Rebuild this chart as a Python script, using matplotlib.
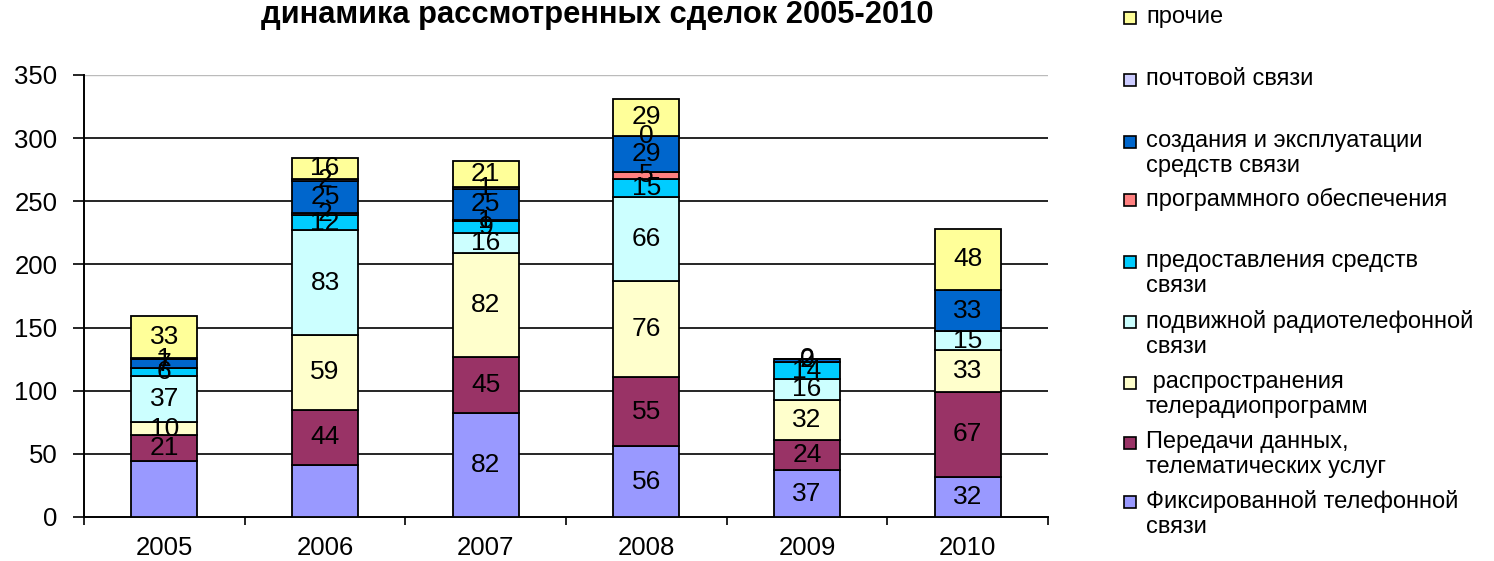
import numpy as np
import matplotlib
matplotlib.use("Agg")
import matplotlib.pyplot as plt
from matplotlib.patches import Rectangle

plt.rcParams['font.family'] = ['Liberation Sans', 'DejaVu Sans']

years = ['2005', '2006', '2007', '2008', '2009', '2010']
nan = np.nan

# series, bottom to top
fixed        = [44, 41, 82, 56, 37, 32]
data_tel     = [21, 44, 45, 55, 24, 67]
broadcast    = [10, 59, 82, 76, 32, 33]
mobile       = [37, 83, 16, 66, 16, 15]
provision    = [6, 12, 9, 15, 14, nan]
software     = [nan, 2, 1, 5, nan, nan]
creation     = [7, 25, 25, 29, 2, 33]
postal       = [1, 2, 1, 0, 0, nan]
other        = [33, 16, 21, 29, nan, 48]

series_names = [
    'Фиксированной телефонной\nсвязи',
    'Передачи данных,\nтелематических услуг',
    ' распространения\nтелерадиопрограмм',
    'подвижной радиотелефонной\nсвязи',
    'предоставления средств\nсвязи',
    'программного обеспечения',
    'создания и эксплуатации\nсредств связи',
    'почтовой связи',
    'прочие',
]
series_values = [fixed, data_tel, broadcast, mobile, provision, software,
                 creation, postal, other]
colors = ['#9999FF', '#993366', '#FFFFCC', '#CCFFFF', '#00CCFF', '#FF8080',
          '#0066CC', '#CCCCFF', '#FFFF99']
# labels not shown in the original
hidden_labels = {(0, 0), (0, 1)}

W, H = 1494, 561
fig = plt.figure(figsize=(W / 100, H / 100), dpi=100)
ax = fig.add_axes([84 / W, 1 - 517 / H, (1048 - 84) / W, (517 - 75) / H])

x = np.arange(len(years))
bottom = np.zeros(len(years))
for si, (vals, col) in enumerate(zip(series_values, colors)):
    v = np.array(vals, dtype=float)
    vv = np.nan_to_num(v)
    ax.bar(x, vv, 0.41, bottom=bottom, color=col, edgecolor='black',
           linewidth=1.3, zorder=3)
    for i in range(len(years)):
        if np.isnan(v[i]) or (si, i) in hidden_labels:
            continue
        ax.text(x[i], bottom[i] + vv[i] / 2, f'{int(v[i])}', ha='center',
                va='center', fontsize=19, color='black', zorder=4)
    bottom += vv

ax.set_xlim(-0.5, len(years) - 0.5)
ax.set_ylim(0, 350)
ax.set_yticks(np.arange(0, 351, 50))
ax.tick_params(axis='y', direction='out', length=8, width=1.2, labelsize=18.5, pad=11)
for yv in range(50, 301, 50):
    ax.axhline(yv, color='black', linewidth=1.2, zorder=1)
ax.axhline(350, color='#bbbbbb', linewidth=1.0, zorder=1)

ax.set_xticks(np.arange(-0.5, len(years)), minor=False)
ax.set_xticklabels([])
ax.set_xticks(x, minor=True)
ax.set_xticklabels(years, minor=True)
ax.tick_params(axis='x', which='major', direction='out', length=6, width=1.2)
ax.tick_params(axis='x', which='minor', length=0, labelsize=18.5, pad=14)

for s in ['top', 'right']:
    ax.spines[s].set_visible(False)
for s in ['left', 'bottom']:
    ax.spines[s].set_linewidth(1.4)

fig.text(597 / W, 1 - 15 / H, 'динамика рассмотренных сделок 2005-2010',
         ha='center', va='center', fontsize=22.2, fontweight='bold')

# legend (top entry first), first-line y positions in pixels
leg_y = [18, 80, 142, 200, 262, 322, 383, 443, 502]
order = list(range(len(series_names)))[::-1]
for yy, si in zip(leg_y, order):
    fig.patches.append(Rectangle((1124 / W, 1 - (yy + 6) / H), 12 / W, 12 / H,
                                 transform=fig.transFigure, facecolor=colors[si],
                                 edgecolor='black', linewidth=1.2))
    fig.text(1146 / W, 1 - (yy - 12) / H, series_names[si], ha='left', va='top',
             fontsize=17, linespacing=1.15)

fig.savefig('out.png', dpi=100)
